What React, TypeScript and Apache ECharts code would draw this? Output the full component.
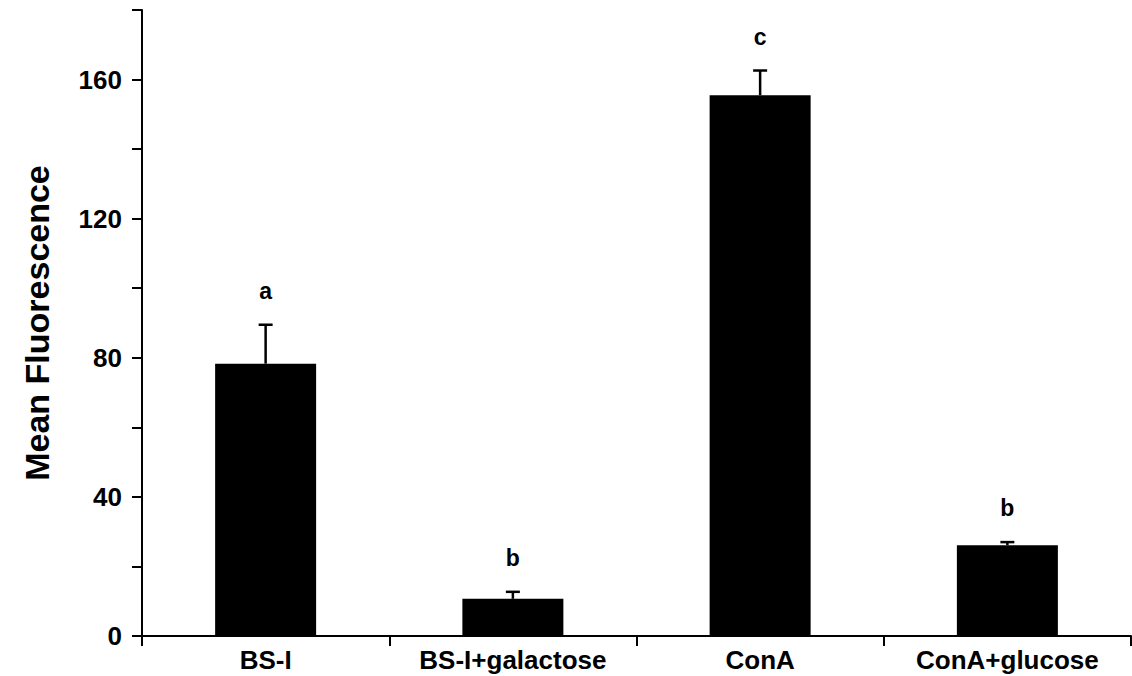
import React, { useEffect, useRef } from "react";
import * as echarts from "echarts";

const categories = ["BS-I", "BS-I+galactose", "ConA", "ConA+glucose"];
const meanValues = [78.3, 10.7, 155.5, 26.1];
const errorTops = [89.5, 12.7, 162.6, 27.0];
const letters = ["a", "b", "c", "b"];
const yTicks = [0, 40, 80, 120, 160];

const FONT = "'Liberation Sans', Arial, sans-serif";

export default function App() {
  const ref = useRef<HTMLDivElement>(null);
  useEffect(() => {
    if (!ref.current) return;
    const chart = echarts.init(ref.current, null, { renderer: "svg" });
    const errData = categories.map((_, i) => [i, meanValues[i], errorTops[i]]);
    chart.setOption({
      animation: false,
      backgroundColor: "#ffffff",
      grid: { left: 142, right: 1, top: 10, bottom: 40, containLabel: false },
      xAxis: {
        type: "category",
        data: categories,
        boundaryGap: true,
        axisLine: { lineStyle: { color: "#000", width: 2 } },
        axisTick: { show: true, length: 10, lineStyle: { color: "#000", width: 2 } },
        axisLabel: {
          color: "#000",
          fontFamily: FONT,
          fontWeight: "bold",
          fontSize: 26,
          margin: 11,
        },
      },
      yAxis: {
        type: "value",
        min: 0,
        max: 180,
        interval: 20,
        name: "Mean Fluorescence",
        nameLocation: "middle",
        nameGap: 88,
        nameTextStyle: {
          color: "#000",
          fontFamily: FONT,
          fontWeight: "bold",
          fontSize: 34,
        },
        splitLine: { show: false },
        axisLine: { show: true, lineStyle: { color: "#000", width: 2 } },
        axisTick: { show: true, length: 10, lineStyle: { color: "#000", width: 2 } },
        axisLabel: {
          color: "#000",
          fontFamily: FONT,
          fontWeight: "bold",
          fontSize: 26,
          margin: 20,
          formatter: (v: number) => (yTicks.includes(v) ? String(v) : ""),
        },
      },
      series: [
        {
          type: "bar",
          data: meanValues,
          barWidth: 101,
          itemStyle: { color: "#000" },
        },
        {
          type: "custom",
          data: errData,
          z: 5,
          renderItem: (params: any, api: any) => {
            const i = api.value(0);
            const lo = api.coord([i, api.value(1)]);
            const hi = api.coord([i, api.value(2)]);
            const x = lo[0];
            const cap = 7;
            return {
              type: "group",
              children: [
                {
                  type: "line",
                  shape: { x1: x, y1: lo[1], x2: x, y2: hi[1] },
                  style: { stroke: "#000", lineWidth: 2.5 },
                },
                {
                  type: "line",
                  shape: { x1: x - cap, y1: hi[1], x2: x + cap, y2: hi[1] },
                  style: { stroke: "#000", lineWidth: 2.5 },
                },
                {
                  type: "text",
                  x: x,
                  y: hi[1] - 34,
                  style: {
                    text: letters[params.dataIndex],
                    fill: "#000",
                    font: `bold 23px ${FONT}`,
                    align: "center",
                    verticalAlign: "middle",
                  },
                },
              ],
            };
          },
        },
      ],
    });
    return () => chart.dispose();
  }, []);
  return <div ref={ref} style={{ width: 1132, height: 676, position: "absolute", left: 0, top: 0 }} />;
}
